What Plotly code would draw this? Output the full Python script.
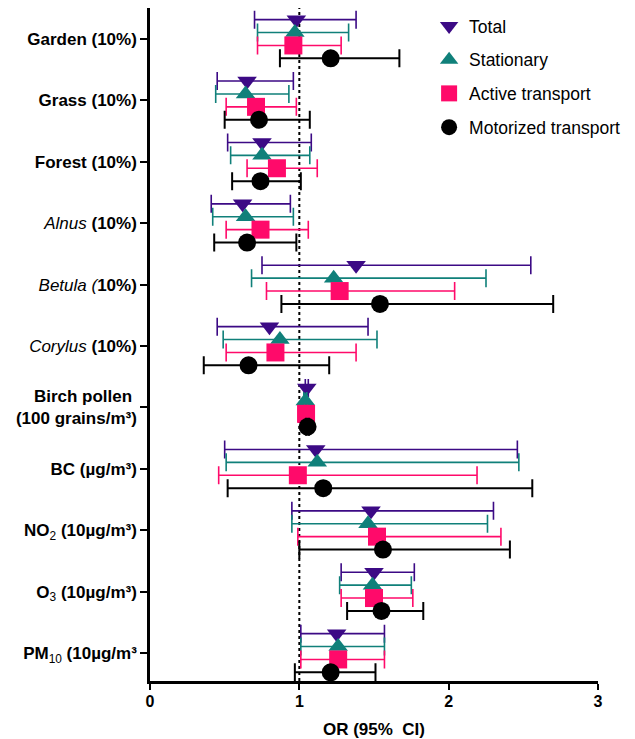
import plotly.graph_objects as go

categories = [
    "<b>Garden (10%)</b>",
    "<b>Grass (10%)</b>",
    "<b>Forest (10%)</b>",
    "<i>Alnus</i> <b>(10%)</b>",
    "<i>Betula (</i><b>10%)</b>",
    "<i>Corylus</i> <b>(10%)</b>",
    "<b>Birch pollen\u00a0</b><br><b>(100 grains/m³)</b>",
    "<b>BC (µg/m³)</b>",
    "<b>NO</b><sub>2</sub><b> (10µg/m³)</b>",
    "<b>O</b><sub>3</sub><b> (10µg/m³)</b>",
    "<b>PM</b><sub>10</sub><b> (10µg/m³</b>",
]

series_names = ["Total", "Stationary", "Active transport", "Motorized transport"]

total_or = [0.98, 0.65, 0.75, 0.62, 1.38, 0.80, 1.05, 1.11, 1.48, 1.50, 1.25]
total_lo = [0.70, 0.45, 0.52, 0.41, 0.75, 0.45, 1.04, 0.50, 0.95, 1.28, 1.01]
total_hi = [1.38, 0.96, 1.08, 0.94, 2.55, 1.46, 1.06, 2.46, 2.30, 1.77, 1.57]

stat_or = [0.97, 0.64, 0.75, 0.64, 1.23, 0.87, 1.04, 1.12, 1.46, 1.49, 1.26]
stat_lo = [0.72, 0.44, 0.54, 0.42, 0.68, 0.49, 1.03, 0.51, 0.95, 1.27, 1.01]
stat_hi = [1.33, 0.93, 1.07, 0.96, 2.25, 1.52, 1.05, 2.47, 2.26, 1.75, 1.57]

act_or = [0.96, 0.71, 0.85, 0.74, 1.27, 0.84, 1.045, 0.99, 1.52, 1.50, 1.26]
act_lo = [0.72, 0.51, 0.65, 0.51, 0.78, 0.51, 1.035, 0.46, 0.99, 1.28, 1.01]
act_hi = [1.28, 0.98, 1.12, 1.06, 2.04, 1.38, 1.055, 2.19, 2.35, 1.76, 1.57]

mot_or = [1.21, 0.73, 0.74, 0.65, 1.54, 0.66, 1.055, 1.16, 1.56, 1.55, 1.21]
mot_lo = [0.87, 0.50, 0.55, 0.43, 0.88, 0.36, 1.045, 0.52, 1.00, 1.32, 0.97]
mot_hi = [1.67, 1.07, 1.01, 0.98, 2.70, 1.20, 1.065, 2.56, 2.41, 1.83, 1.51]

x_ticks = [0, 1, 2, 3]

values = [
    (total_or, total_lo, total_hi),
    (stat_or, stat_lo, stat_hi),
    (act_or, act_lo, act_hi),
    (mot_or, mot_lo, mot_hi),
]
colors = ["#3c0a85", "#10807a", "#ff0a6a", "#000000"]
symbols = ["triangle-down", "triangle-up", "square", "circle"]
sizes = [17, 17, 18, 18]
bar_w = [1.6, 1.6, 1.6, 2.0]

n = len(categories)
group_pos = [n - 1 - i for i in range(n)]
spacing = 0.21

FONT = "Liberation Sans, Arial, sans-serif"

fig = go.Figure()
for j, (name, (orv, lo, hi)) in enumerate(zip(series_names, values)):
    off = (1.5 - j) * spacing
    ys = [p + off for p in group_pos]
    fig.add_trace(go.Scatter(
        x=orv, y=ys, mode="markers", name=name, legendgroup=name,
        marker=dict(symbol=symbols[j], size=sizes[j], color=colors[j], line=dict(width=0)),
        error_x=dict(type="data", symmetric=False,
                     array=[h - o for h, o in zip(hi, orv)],
                     arrayminus=[o - l for o, l in zip(orv, lo)],
                     color=colors[j], thickness=bar_w[j], width=9),
    ))

fig.add_shape(type="line", x0=1, x1=1, xref="x", y0=0, y1=1, yref="paper",
              line=dict(color="black", width=2, dash="dot"), layer="below")

# page has an 8px body margin: size the figure to fit the 635x739 window
fig.update_layout(
    width=627, height=731,
    margin=dict(l=142, r=37, t=0, b=58, pad=0),
    paper_bgcolor="white", plot_bgcolor="white",
    font=dict(family=FONT, color="black"),
    showlegend=True,
    legend=dict(x=0.623, y=1.0, xanchor="left", yanchor="top",
                font=dict(size=17.5, family=FONT, color="black"),
                tracegroupgap=8, bgcolor="rgba(0,0,0,0)"),
    xaxis=dict(range=[0, 3], tickvals=x_ticks, ticktext=[f"<b>{t}</b>" for t in x_ticks],
               showgrid=False, zeroline=False, showline=True, linecolor="black", linewidth=2.5,
               ticks="outside", ticklen=6, tickwidth=2, tickcolor="black",
               ticklabelstandoff=-2,
               tickfont=dict(size=16, family=FONT, color="black"),
               title=dict(text="<b>OR (95%\u00a0 CI)</b>", font=dict(size=17, family=FONT, color="black"), standoff=15)),
    yaxis=dict(range=[-0.456, 10.505], tickvals=group_pos, ticktext=categories,
               showgrid=False, zeroline=False, showline=True, linecolor="black", linewidth=2.5,
               ticks="outside", ticklen=7, tickwidth=2, tickcolor="black",
               tickfont=dict(size=17, family=FONT, color="black")),
)

fig.write_html("out.html")
